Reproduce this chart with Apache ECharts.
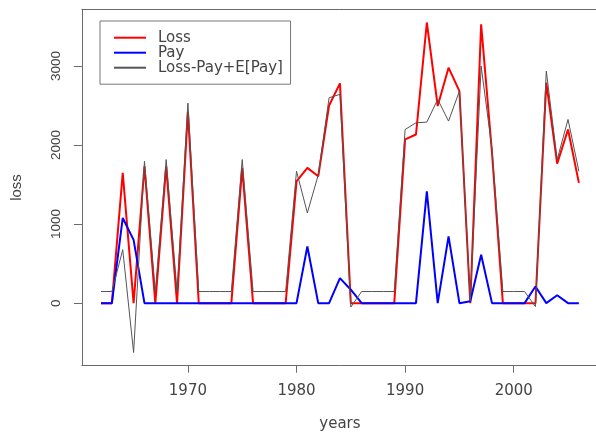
<!DOCTYPE html>
<html>
<head>
<meta charset="utf-8">
<script src="https://cdn.jsdelivr.net/npm/echarts@6/dist/echarts.min.js"></script>
<style>
html,body{margin:0;padding:0;background:#fff;}
#c{width:596px;height:432px;}
</style>
</head>
<body>
<div id="c"></div>
<script>
var years = [1962,1963,1964,1965,1966,1967,1968,1969,1970,1971,1972,1973,1974,1975,1976,1977,1978,1979,1980,1981,1982,1983,1984,1985,1986,1987,1988,1989,1990,1991,1992,1993,1994,1995,1996,1997,1998,1999,2000,2001,2002,2003,2004,2005,2006];
var loss = [0,0,1648,0,1731,0,1730,0,2420,0,0,0,0,1711,0,0,0,0,1541,1711,1605,2500,2779,0,0,0,0,0,2070,2133,3549,2492,2978,2682,0,3527,1900,0,0,0,0,2788,1765,2196,1521];
var pay = [0,0,1077,800,0,0,0,0,0,0,0,0,0,0,0,0,0,0,0,717,0,0,317,170,0,0,0,0,0,0,1414,0,844,0,25,612,0,0,0,0,211,0,100,0,0];
var adj = [147,147,676,-624,1795,150,1816,150,2530,147,147,147,147,1816,147,147,147,147,1668,1141,1620,2598,2640,-50,147,147,147,147,2196,2281,2289,2577,2302,2682,30,2999,1950,147,147,147,-43,2935,1816,2323,1668];
var xTicks = [1970,1980,1990,2000];
var yTicks = [0,1000,2000,3000];
var names = ['Loss','Pay','Loss-Pay+E[Pay]'];

function pairs(v){ return years.map(function(y,i){ return [y, v[i]]; }); }
function plain(v){ return String(v); }
var xr = years[years.length-1]-years[0];
var all = loss.concat(pay, adj);
var ymin = Math.min.apply(null, all), ymax = Math.max.apply(null, all), yr = ymax-ymin;
var xmin = years[0]-0.04*xr, xmax = years[years.length-1]+0.04*xr;

var chart = echarts.init(document.getElementById('c'), null, {renderer:'canvas'});
var axisColor = '#6a6a6a', textColor = '#444';
chart.setOption({
  animation:false,
  backgroundColor:'#fff',
  grid:{left:81.9, top:9.3, width:516.1, height:356.4, show:false, containLabel:false, outerBoundsMode:'none'},
  legend:{
    data:names, orient:'vertical', left:100, top:21,
    padding:[9.2,7.6,9,13], itemGap:0, itemWidth:32, itemHeight:12,
    borderColor:'#777', borderWidth:1, backgroundColor:'#fff',
    itemStyle:{opacity:0},
    textStyle:{fontFamily:'DejaVu Sans', fontSize:15, color:textColor, lineHeight:15, padding:[0,0,0,7]}
  },
  xAxis:[{
    type:'value', min:xmin, max:xmax,
    name:'years', nameLocation:'middle', nameGap:51,
    nameTextStyle:{fontFamily:'DejaVu Sans', fontSize:15, color:textColor},
    axisLine:{show:true, onZero:false, lineStyle:{color:axisColor}},
    axisTick:{show:true, inside:false, length:7, customValues:xTicks, lineStyle:{color:axisColor}},
    axisLabel:{customValues:xTicks, formatter:plain, margin:18, fontFamily:'DejaVu Sans', fontSize:15, color:textColor},
    splitLine:{show:false}
  },{
    type:'value', position:'top', min:xmin, max:xmax,
    axisLine:{show:true, onZero:false, lineStyle:{color:axisColor}},
    axisTick:{show:false}, axisLabel:{show:false}, splitLine:{show:false}
  }],
  yAxis:{
    type:'value', min:ymin-0.04*yr, max:ymax+0.04*yr,
    name:'loss', nameLocation:'middle', nameGap:58,
    nameTextStyle:{fontFamily:'Liberation Sans', fontSize:15, color:textColor},
    axisLine:{show:true, onZero:false, lineStyle:{color:axisColor}},
    axisTick:{show:true, inside:false, length:8, customValues:yTicks, lineStyle:{color:axisColor}},
    axisLabel:{customValues:yTicks, formatter:plain, rotate:90, margin:19, fontFamily:'Liberation Sans', fontSize:13.5, color:textColor},
    splitLine:{show:false}
  },
  series:[
    {name:names[0], type:'line', data:pairs(loss), symbol:'none', color:'#ff0000', lineStyle:{width:2, color:'#ff0000'}},
    {name:names[1], type:'line', data:pairs(pay), symbol:'none', color:'#0000ff', lineStyle:{width:2, color:'#0000ff'}},
    {name:names[2], type:'line', data:pairs(adj), symbol:'none', color:'#555555', lineStyle:{width:1, color:'#555555'}}
  ]
});
</script>
</body>
</html>
